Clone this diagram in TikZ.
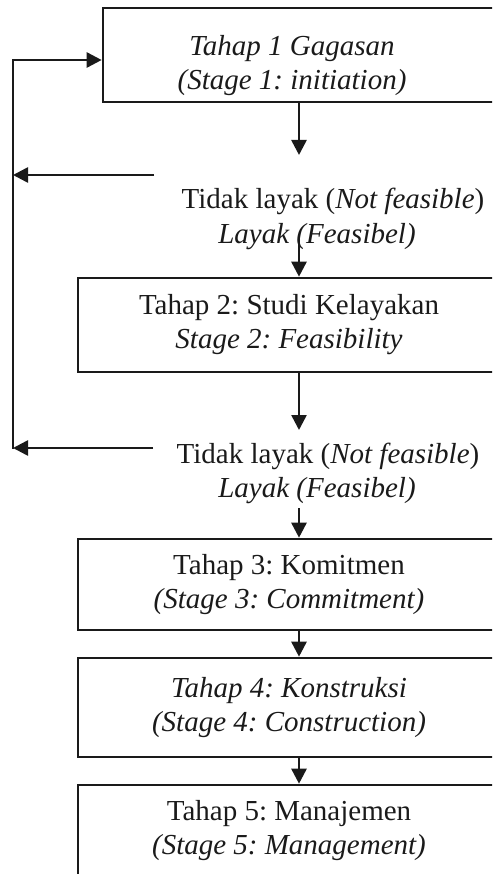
\documentclass[tikz,border=0pt]{standalone}
\usepackage{fontspec}
\setmainfont{Liberation Serif}
\frenchspacing
\usetikzlibrary{arrows.meta}
\definecolor{ink}{HTML}{1A1A1A}
\begin{document}
\begin{tikzpicture}[x=1pt,y=-1pt,
  stagebox/.style={draw=ink,line width=2.6pt,rectangle,inner sep=0pt},
  label/.style={text=ink,inner sep=0pt,align=center,font=\fontsize{29}{34}\selectfont},
  link/.style={draw=ink,line width=2.6pt},
  arr/.style={link,-{Triangle[length=15pt,width=15pt]}}]
\useasboundingbox (0,0) rectangle (492,874);
\clip (0,0) rectangle (492,874);

% stage boxes (their right edges run past the frame)
\node[stagebox,minimum width=402,minimum height=94] (s1) at (304,55) {};
\node[label] (t1) at (292,66) {\itshape Tahap 1 Gagasan\\\itshape (Stage 1: initiation)};
\node[stagebox,label,minimum width=422,minimum height=94] (s2) at (289,325)
  {Tahap 2: Studi Kelayakan\\\itshape Stage 2: Feasibility};
\node[stagebox,label,minimum width=422,minimum height=91] (s3) at (289,584.5)
  {Tahap 3: Komitmen\\\itshape (Stage 3: Commitment)};
\node[stagebox,label,minimum width=422,minimum height=99] (s4) at (289,707.5)
  {\itshape Tahap 4: Konstruksi\\\itshape (Stage 4: Construction)};
\node[stagebox,label,minimum width=422,minimum height=92] (s5) at (289,831)
  {Tahap 5: Manajemen\\\itshape (Stage 5: Management)};

% decision texts
\node[label] (no1) at (333,201) {Tidak layak (\textit{Not feasible})};
\node[label] (yes1) at (317,237) {\itshape Layak (Feasibel)};
\node[label] (no2) at (328,456) {Tidak layak (\textit{Not feasible})};
\node[label] (yes2) at (317,491) {\itshape Layak (Feasibel)};

% spine of the flow and the feedback loop
\coordinate (spine) at (299,0);
\coordinate (d1) at (299,155);
\coordinate (y1) at (299,238);
\coordinate (d2) at (299,430);
\coordinate (y2) at (299,508);
\coordinate (loopT) at (13,60);
\coordinate (loopB) at (13,448);
\coordinate (r1) at (154,175);
\coordinate (r2) at (153,448);

\draw[arr] (s1.south -| spine) -- (d1);
\draw[arr] (y1) -- (s2.north -| spine);
\draw[arr] (s2.south -| spine) -- (d2);
\draw[arr] (y2) -- (s3.north -| spine);
\draw[arr] (s3.south -| spine) -- (s4.north -| spine);
\draw[arr] (s4.south -| spine) -- (s5.north -| spine);

\draw[arr] (r1) -- (r1 -| loopT);
\draw[arr] (r2) -- (r2 -| loopT);
\draw[link,line cap=rect] (loopB) -- (loopT);
\draw[arr] (loopT) -- (loopT -| s1.west);
\end{tikzpicture}
\end{document}
